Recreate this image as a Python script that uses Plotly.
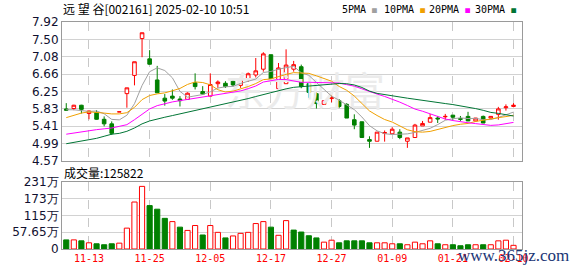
import plotly.graph_objects as go

# ---------------- data ----------------
dates = ["11-08","11-11","11-12","11-13","11-14","11-15","11-18","11-19","11-20","11-21",
         "11-22","11-25","11-26","11-27","11-28","11-29","12-02","12-03","12-04","12-05",
         "12-06","12-09","12-10","12-11","12-12","12-13","12-16","12-17","12-18","12-19",
         "12-20","12-23","12-24","12-25","12-26","12-27","12-30","12-31","01-02","01-03",
         "01-06","01-07","01-08","01-09","01-10","01-13","01-14","01-15","01-16","01-17",
         "01-20","01-21","01-22","01-23","01-24","01-27","02-05","02-06","02-07","02-10"]

opens  = [5.82,5.83,5.91,5.71,5.73,5.57,5.46,5.75,6.19,6.63,
          7.52,7.03,6.52,6.08,6.13,6.06,6.05,6.45,6.24,6.13,
          6.43,6.44,6.49,6.39,6.53,6.64,6.78,7.13,6.31,6.43,
          6.78,6.84,6.43,6.19,5.93,6.07,6.02,5.93,5.56,5.51,
          5.08,5.04,5.23,5.22,5.26,5.04,5.13,5.41,5.50,5.60,
          5.63,5.67,5.59,5.64,5.53,5.64,5.60,5.69,5.85,5.88]
highs  = [5.96,5.92,5.92,5.78,5.79,5.64,5.52,5.75,6.33,6.96,
          7.66,7.24,6.86,6.18,6.29,6.13,6.22,6.68,6.37,6.68,
          6.51,6.49,6.54,6.58,6.70,7.05,7.19,7.13,6.93,7.26,
          6.98,6.89,6.45,6.22,6.02,6.24,6.06,5.96,5.69,5.51,
          5.16,5.26,5.30,5.38,5.33,5.12,5.46,5.53,5.70,5.65,
          5.70,5.67,5.65,5.75,5.60,5.66,5.64,5.87,5.93,5.96]
lows   = [5.77,5.79,5.71,5.57,5.56,5.40,5.19,5.75,5.85,6.39,
          7.07,6.89,6.21,5.90,6.04,5.88,6.04,6.29,6.16,6.13,
          6.33,6.33,6.36,6.33,6.47,6.58,6.72,6.49,6.27,6.43,
          6.72,6.32,6.09,5.83,5.93,5.98,5.84,5.60,5.33,5.12,
          4.88,5.04,5.03,5.22,5.09,4.88,5.13,5.41,5.50,5.48,
          5.56,5.56,5.53,5.53,5.52,5.48,5.59,5.56,5.78,5.86]
closes = [5.79,5.91,5.81,5.77,5.57,5.46,5.23,5.75,6.33,6.96,
          7.66,6.90,6.21,6.01,6.08,6.02,6.20,6.36,6.18,6.41,
          6.47,6.36,6.40,6.54,6.67,6.74,7.15,6.53,6.81,6.88,
          6.89,6.36,6.22,5.95,6.02,6.09,5.88,5.60,5.43,5.13,
          5.04,5.26,5.25,5.33,5.13,5.12,5.43,5.47,5.61,5.58,
          5.64,5.62,5.57,5.53,5.60,5.48,5.64,5.82,5.87,5.91]

# volume in 万
volumes = [31.3,31.3,28.0,21.3,17.9,14.6,17.9,20.1,71.6,161.2,
           214.9,148.9,136.6,105.2,94.0,75.0,63.8,80.6,48.1,80.6,
           57.1,38.1,44.8,53.7,57.1,87.3,94.0,75.0,47.0,97.4,
           64.9,58.2,45.5,38.1,23.5,30.2,21.3,28.0,28.0,28.0,
           21.3,21.3,21.3,17.9,17.9,14.6,23.5,17.9,28.0,17.9,
           14.6,14.6,11.2,14.6,14.6,14.6,14.6,28.0,30.2,12.58]
vol_up = [0,1,0,1,0,0,0,1,1,1,
          1,0,0,0,1,0,1,1,0,1,
          1,0,1,1,1,1,1,0,1,1,
          0,0,0,0,1,1,0,0,0,0,
          0,1,1,1,0,1,1,1,1,0,
          1,0,0,0,1,0,1,1,1,1]

ma5_head  = [5.80,5.80,5.78,5.76]
ma10_head = [5.61,5.66,5.72,5.75,5.74,5.72,5.70,5.70,5.73]
ma20_head = [5.21,5.24,5.27,5.30,5.32,5.34,5.36,5.40,5.44,5.56,5.70,5.82,5.90,5.95,5.99,6.02,6.05,6.08,6.10]
ma30_head = [4.98,5.01,5.04,5.07,5.11,5.16,5.21,5.23,5.28,5.36,5.46,5.53,5.58,5.62,5.66,5.70,5.74,
             5.78,5.83,5.87,5.91,5.94,5.98,6.02,6.07,6.12,6.17,6.22,6.27]

price_ticks = ["4.57","4.99","5.41","5.83","6.25","6.66","7.08","7.50","7.92"]
vol_ticks = ["0","57.65万","115万","173万","231万"]
date_ticks = ["11-13","11-25","12-05","12-17","12-27","01-09","01-21","02-10"]
title_text = "远 望 谷[002161] 2025-02-10 10:51"
vol_label = "成交量:125822"
ma_names = ["5PMA","10PMA","20PMA","30PMA"]
ma_colors = ["#a0a0a0","#f0a000","#ff00ff","#007535"]

# ---------------- derived ----------------
n = len(dates)
idx = list(range(n))

def ma(period, head):
    out = list(head)
    for i in range(len(head), n):
        out.append(sum(closes[i-period+1:i+1]) / period)
    return out

mas = [ma(5, ma5_head), ma(10, ma10_head), ma(20, ma20_head), ma(30, ma30_head)]

pmin, pmax = 4.57, 7.92
ptick_vals = [pmin + k*(pmax-pmin)/8 for k in range(9)]
vmax = 230.6
vtick_vals = [k*vmax/4 for k in range(5)]
dtick_vals = [dates.index(d) for d in date_ticks]

RED = "#ff0000"
GREEN = "#008000"

fig = go.Figure()

# faint watermark under the data
fig.add_trace(go.Scatter(x=[31.5], y=[6.14], mode="text", text=["东方财富"],
                         textfont=dict(family="Noto Sans CJK SC", size=40, color="#ebebeb"),
                         hoverinfo="skip", showlegend=False, xaxis="x", yaxis="y"))

for vals, col in zip(mas, ma_colors):
    fig.add_trace(go.Scatter(x=idx, y=vals, mode="lines", line=dict(color=col, width=1),
                             hoverinfo="skip", showlegend=False, xaxis="x", yaxis="y"))

fig.add_trace(go.Candlestick(
    x=idx, open=opens, high=highs, low=lows, close=closes,
    increasing=dict(line=dict(color=RED, width=1), fillcolor="#ffffff"),
    decreasing=dict(line=dict(color=GREEN, width=1), fillcolor=GREEN),
    whiskerwidth=0, showlegend=False, xaxis="x", yaxis="y"))

fig.add_trace(go.Bar(
    x=idx, y=volumes,
    marker=dict(color=["#ffffff" if u else GREEN for u in vol_up],
                line=dict(color=[RED if u else GREEN for u in vol_up], width=1)),
    showlegend=False, xaxis="x2", yaxis="y2"))

grid_h = "#d2d2d2"
grid_v = "#c8c8c8"
border = "#9a9a9a"
xr = [-0.56, 60.12]

fig.update_layout(
    width=578, height=276,
    margin=dict(l=56, r=56, t=22, b=20),
    paper_bgcolor="white", plot_bgcolor="white",
    boxgap=0.32, bargap=0.32,
    xaxis=dict(domain=[0, 1], anchor="y", range=xr, tickvals=dtick_vals, showticklabels=False,
               showgrid=True, gridcolor=grid_v, griddash="dash", gridwidth=1,
               showline=True, mirror=True, linecolor=border, linewidth=1,
               zeroline=False, rangeslider=dict(visible=False), ticks=""),
    yaxis=dict(domain=[0.389, 1], anchor="x", range=[pmin, pmax], tickvals=ptick_vals, ticktext=price_ticks,
               showgrid=True, gridcolor=grid_h, gridwidth=1, zeroline=False,
               showline=True, mirror=True, linecolor=border, linewidth=1, ticks="",
               tickfont=dict(family="DejaVu Sans", size=12, color="#101030")),
    xaxis2=dict(domain=[0, 1], anchor="y2", range=xr, tickvals=dtick_vals, ticktext=date_ticks,
                showgrid=True, gridcolor=grid_v, griddash="dash", gridwidth=1,
                showline=True, mirror=True, linecolor=border, linewidth=1,
                zeroline=False, ticks="",
                tickfont=dict(family="DejaVu Sans Mono", size=10, color=RED)),
    yaxis2=dict(domain=[0, 0.296], anchor="x2", range=[0, vmax], tickvals=vtick_vals, ticktext=vol_ticks,
                showgrid=True, gridcolor=grid_h, gridwidth=1, zeroline=False,
                showline=True, mirror=True, linecolor=border, linewidth=1, ticks="",
                tickfont=dict(family="DejaVu Sans", size=12, color="#101030")),
)

ann = []
ann.append(dict(text=title_text, xref="paper", yref="paper", x=-0.002, y=1.0598,
                xanchor="left", yanchor="middle", showarrow=False,
                font=dict(family="Noto Sans CJK SC", size=12, color="#000000")))
leg_x = [0.605, 0.695, 0.794, 0.893]
for name, col, lx in zip(ma_names, ma_colors, leg_x):
    ann.append(dict(text=name + ' <span style="color:%s;font-size:8px">■</span>' % col,
                    xref="paper", yref="paper", x=lx, y=1.0556, xanchor="left", yanchor="middle",
                    showarrow=False, font=dict(family="DejaVu Sans Mono", size=10, color="#000000")))
ann.append(dict(text=vol_label, xref="paper", yref="paper", x=0.0, y=0.3376,
                xanchor="left", yanchor="middle", showarrow=False,
                font=dict(family="Noto Sans CJK SC", size=12, color="#000000")))
ann.append(dict(text="www.365jz.com", xref="paper", yref="paper", x=0.856, y=-0.027,
                xanchor="left", yanchor="middle", showarrow=False,
                font=dict(family="Liberation Serif", size=17, color="#1a3575")))
fig.update_layout(annotations=ann)

fig.write_html("out.html")
